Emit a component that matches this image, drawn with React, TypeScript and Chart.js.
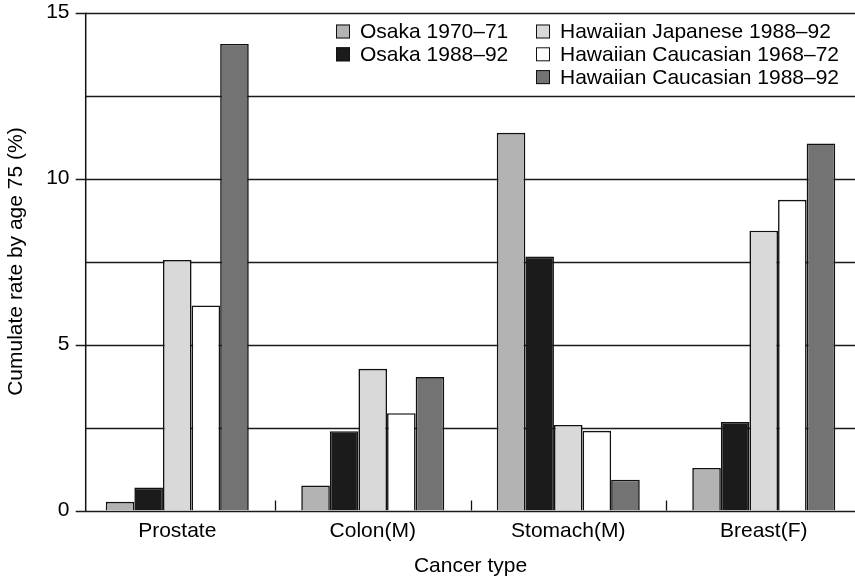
import React, { useEffect, useRef } from "react";
import { Chart, registerables } from "chart.js";

Chart.register(...registerables);

const categories = ["Prostate", "Colon(M)", "Stomach(M)", "Breast(F)"];
const seriesNames = [
  "Osaka 1970–71",
  "Osaka 1988–92",
  "Hawaiian Japanese 1988–92",
  "Hawaiian Caucasian 1968–72",
  "Hawaiian Caucasian 1988–92",
];
const osaka1970 = [0.26, 0.75, 11.38, 1.28];
const osaka1988 = [0.69, 2.39, 7.65, 2.67];
const hawJap1988 = [7.55, 4.27, 2.58, 8.43];
const hawCau1968 = [6.18, 2.93, 2.4, 9.36];
const hawCau1988 = [14.06, 4.02, 0.93, 11.06];
const seriesValues = [osaka1970, osaka1988, hawJap1988, hawCau1968, hawCau1988];
const seriesColors = ["#b3b3b3", "#1b1b1b", "#d9d9d9", "#ffffff", "#737373"];
const yTickLabels = [0, 5, 10, 15];
const yTitle = "Cumulate rate by age 75 (%)";
const xTitle = "Cancer type";

const FONT = "'Liberation Sans', Arial, Helvetica, sans-serif";

const customAxes = {
  id: "customAxes",
  beforeDatasetsDraw(chart: any) {
    const { ctx, chartArea, scales } = chart;
    const y = scales.y;
    const axisX = chartArea.left + 6.2;
    ctx.save();
    ctx.strokeStyle = "#1a1a1a";
    ctx.lineWidth = 1.3;
    y.ticks.forEach((t: any) => {
      const py = Math.round(y.getPixelForValue(t.value)) + 0.5;
      const major = yTickLabels.includes(t.value);
      ctx.beginPath();
      ctx.moveTo(major ? axisX - 10 : axisX, py);
      ctx.lineTo(chart.width, py);
      ctx.stroke();
    });
    ctx.restore();
  },
  afterDatasetsDraw(chart: any) {
    const { ctx, chartArea, scales } = chart;
    const x = scales.x;
    const axisX = chartArea.left + 6.2;
    ctx.save();
    ctx.strokeStyle = "#111";
    ctx.lineWidth = 1.5;
    ctx.beginPath();
    ctx.moveTo(axisX, chartArea.top);
    ctx.lineTo(axisX, chartArea.bottom + 0.5);
    ctx.stroke();
    ctx.lineWidth = 1.3;
    for (let i = 0; i < categories.length - 1; i++) {
      const bx = Math.round((x.getPixelForValue(i) + x.getPixelForValue(i + 1)) / 2) + 0.5;
      ctx.beginPath();
      ctx.moveTo(bx, chartArea.bottom);
      ctx.lineTo(bx, chartArea.bottom - 10);
      ctx.stroke();
    }
    ctx.restore();
  },
  afterDraw(chart: any) {
    const { ctx } = chart;
    const cols = [
      { x: 336, items: [0, 1] },
      { x: 536, items: [2, 3, 4] },
    ];
    const rowY = [31.5, 54.3, 77.1];
    ctx.save();
    ctx.font = `21px ${FONT}`;
    ctx.textBaseline = "middle";
    ctx.textAlign = "left";
    cols.forEach((col) => {
      col.items.forEach((idx, r) => {
        const ds = chart.data.datasets[idx];
        const cy = rowY[r];
        ctx.fillStyle = ds.backgroundColor;
        ctx.fillRect(col.x, cy - 7, 14, 14);
        ctx.strokeStyle = "#111";
        ctx.lineWidth = 1;
        ctx.strokeRect(col.x + 0.5, cy - 6.5, 13, 13);
        ctx.fillStyle = "#000";
        ctx.fillText(ds.label, col.x + 24, cy + 1);
      });
    });
    ctx.restore();
  },
};

export default function App() {
  const ref = useRef<HTMLCanvasElement | null>(null);
  useEffect(() => {
    if (!ref.current) return;
    const chart = new Chart(ref.current, {
      type: "bar",
      data: {
        labels: categories,
        datasets: seriesNames.map((name, i) => ({
          label: name,
          data: seriesValues[i],
          backgroundColor: seriesColors[i],
          borderColor: "#111",
          borderWidth: 1.6,
          categoryPercentage: 0.7315,
          barPercentage: 1,
        })),
      },
      options: {
        responsive: false,
        animation: false,
        layout: { padding: { left: 0, right: 18.5, top: 12.7, bottom: 0 } },
        plugins: { legend: { display: false }, tooltip: { enabled: false } },
        scales: {
          x: {
            type: "category",
            offset: true,
            grid: { display: false, drawTicks: false },
            border: { display: false },
            ticks: { color: "#000", font: { family: FONT, size: 21 }, padding: 8.6, maxRotation: 0 },
            title: {
              display: true,
              text: xTitle,
              color: "#000",
              font: { family: FONT, size: 21, lineHeight: 1.2 },
              padding: { top: 0, bottom: 3 },
            },
            afterFit: (s: any) => {
              s.height = 71.5;
              s.paddingLeft = 0;
              s.paddingRight = 0;
            },
          },
          y: {
            min: 0,
            max: 15,
            grid: { display: false, drawTicks: false },
            border: { display: false },
            ticks: {
              stepSize: 2.5,
              color: "#000",
              font: { family: FONT, size: 21 },
              padding: 10,
              callback: (v: any) => (yTickLabels.includes(Number(v)) ? String(v) : ""),
            },
            title: {
              display: true,
              text: yTitle,
              color: "#000",
              font: { family: FONT, size: 21, lineHeight: 1.2 },
              padding: { top: 4, bottom: 0 },
            },
            afterFit: (s: any) => {
              s.width = 79.5;
              s.paddingTop = 0;
              s.paddingBottom = 0;
            },
          },
        },
      },
      plugins: [customAxes],
    });
    return () => chart.destroy();
  }, []);
  return (
    <div
      style={{
        position: "fixed",
        left: 0,
        top: 0,
        width: 855,
        height: 582,
        overflow: "hidden",
        background: "#fff",
      }}
    >
      <canvas ref={ref} width={880} height={582} style={{ width: 880, height: 582, display: "block" }} />
    </div>
  );
}
